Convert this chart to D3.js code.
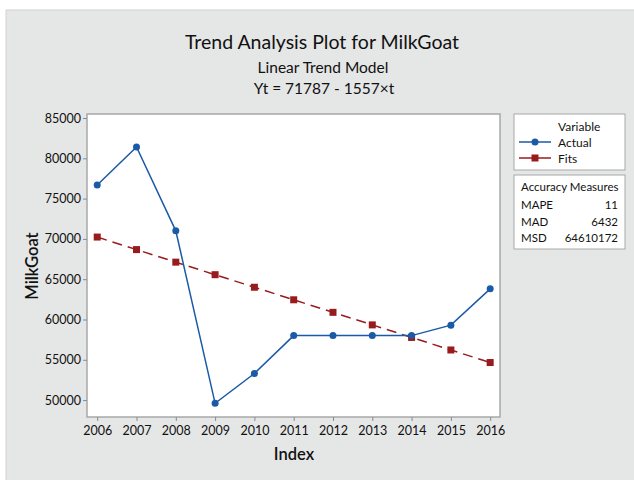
<!DOCTYPE html>
<html>
<head>
<meta charset="utf-8">
<script src="https://cdn.jsdelivr.net/npm/d3@7"></script>
<style>
  body { margin: 0; background: #fff; }
  text { font-family: Lato, "Open Sans", sans-serif; fill: #111; }
</style>
</head>
<body>
<div id="chart"></div>
<script>
var years = [2006, 2007, 2008, 2009, 2010, 2011, 2012, 2013, 2014, 2015, 2016];
var actual = [76700, 81400, 71000, 49600, 53300, 58000, 58000, 58000, 58000, 59300, 63800];
var fits = [70230, 68673, 67116, 65559, 64002, 62445, 60888, 59331, 57774, 56217, 54660];
var yTicks = [50000, 55000, 60000, 65000, 70000, 75000, 80000, 85000];
var measureNames = ["MAPE", "MAD", "MSD"];
var measureValues = ["11", "6432", "64610172"];

var W = 634, H = 480;
var margin = { top: 114, right: 134, bottom: 63, left: 87 },
  width = W - margin.left - margin.right,
  height = H - margin.top - margin.bottom;

var blue = "#1a5aa6", red = "#981b1e";

var root = d3.select("#chart")
  .append("svg")
  .attr("width", W)
  .attr("height", H);

// outer panel (only top and left edges visible)
root.append("rect")
  .attr("x", 6).attr("y", 10)
  .attr("width", W + 10).attr("height", H + 10)
  .attr("fill", "#e5e6e6")
  .attr("stroke", "#d2d2d2");

// titles
root.append("text").attr("x", 322).attr("y", 49)
  .attr("text-anchor", "middle").attr("font-size", 19.5)
  .attr("fill", "#000")
  .text("Trend Analysis Plot for MilkGoat");
root.append("text").attr("x", 323).attr("y", 73)
  .attr("text-anchor", "middle").attr("font-size", 15.5)
  .attr("fill", "#000")
  .text("Linear Trend Model");
root.append("text").attr("x", 324).attr("y", 94)
  .attr("text-anchor", "middle").attr("font-size", 15.5)
  .attr("fill", "#000")
  .text("Yt = 71787 - 1557×t");

var svg = root.append("g")
  .attr("transform", "translate(" + margin.left + "," + margin.top + ")");

var x = d3.scaleLinear()
  .domain([2005.74, 2016.25])
  .range([0, width]);

var y = d3.scaleLinear()
  .domain([47900, 85500])
  .range([height, 0]);

svg.append("rect")
  .attr("width", width).attr("height", height)
  .attr("fill", "#fff")
  .attr("stroke", "#a8a8a8")
  .attr("stroke-width", 1.5);

var xAxis = g => g
  .attr("transform", "translate(0," + height + ")")
  .call(d3.axisBottom(x).tickValues(years).tickFormat(d3.format("d")).tickSize(4).tickPadding(5))
  .call(g => g.select(".domain").remove());

var yAxis = g => g
  .call(d3.axisLeft(y).tickValues(yTicks).tickFormat(d3.format("d")).tickSize(4).tickPadding(2))
  .call(g => g.select(".domain").remove());

svg.append("g").call(xAxis);
svg.append("g").call(yAxis);

svg.selectAll(".tick line").attr("stroke", "#8a8a8a");
svg.selectAll(".tick text")
  .attr("font-family", "Lato, sans-serif")
  .attr("font-size", 12.5)
  .attr("fill", "#000");

// axis titles
root.append("text")
  .attr("x", 294).attr("y", 460)
  .attr("text-anchor", "middle").attr("font-size", 16.5)
  .attr("font-weight", 600)
  .text("Index");
root.append("text")
  .attr("transform", "translate(38,266) rotate(-90)")
  .attr("text-anchor", "middle").attr("font-size", 16.5)
  .attr("font-weight", 600)
  .text("MilkGoat");

var line = d3.line()
  .x((d, i) => x(years[i]))
  .y(d => y(d));

svg.append("path")
  .datum(fits)
  .attr("fill", "none")
  .attr("stroke", red)
  .attr("stroke-width", 1.5)
  .attr("stroke-dasharray", "10,6")
  .attr("d", line);

svg.append("path")
  .datum(actual)
  .attr("fill", "none")
  .attr("stroke", blue)
  .attr("stroke-width", 1.5)
  .attr("d", line);

svg.selectAll(".fit")
  .data(fits)
  .enter().append("rect")
  .attr("x", (d, i) => x(years[i]) - 3.5)
  .attr("y", d => y(d) - 3.5)
  .attr("width", 7).attr("height", 7)
  .attr("fill", red);

svg.selectAll(".act")
  .data(actual)
  .enter().append("circle")
  .attr("cx", (d, i) => x(years[i]))
  .attr("cy", d => y(d))
  .attr("r", 3.5)
  .attr("fill", blue);

// legend
var leg = root.append("g");
leg.append("rect")
  .attr("x", 514).attr("y", 114).attr("width", 111).attr("height", 56)
  .attr("fill", "#fff").attr("stroke", "#a8a8a8");
leg.append("text").attr("x", 558).attr("y", 131).attr("font-size", 12).text("Variable");
var items = [{ name: "Actual", color: blue, shape: "circle" }, { name: "Fits", color: red, shape: "square" }];
items.forEach(function (it, i) {
  var yy = 142 + i * 16;
  leg.append("line").attr("x1", 519).attr("x2", 551).attr("y1", yy).attr("y2", yy)
    .attr("stroke", it.color).attr("stroke-width", 1.5);
  if (it.shape == "circle") {
    leg.append("circle").attr("cx", 535).attr("cy", yy).attr("r", 3.5).attr("fill", it.color);
  } else {
    leg.append("rect").attr("x", 531.5).attr("y", yy - 3.5).attr("width", 7).attr("height", 7).attr("fill", it.color);
  }
  leg.append("text").attr("x", 558).attr("y", yy + 4.5).attr("font-size", 12).text(it.name);
});

leg.append("rect")
  .attr("x", 514).attr("y", 175).attr("width", 111).attr("height", 74)
  .attr("fill", "#fff").attr("stroke", "#a8a8a8");
leg.append("text").attr("x", 521).attr("y", 191).attr("font-size", 11.5).text("Accuracy Measures");
measureNames.forEach(function (m, i) {
  var yy = 209 + i * 16.5;
  leg.append("text").attr("x", 521).attr("y", yy).attr("font-size", 11.5).text(m);
  leg.append("text").attr("x", 618).attr("y", yy).attr("font-size", 11.5)
    .attr("text-anchor", "end").text(measureValues[i]);
});
</script>
</body>
</html>
